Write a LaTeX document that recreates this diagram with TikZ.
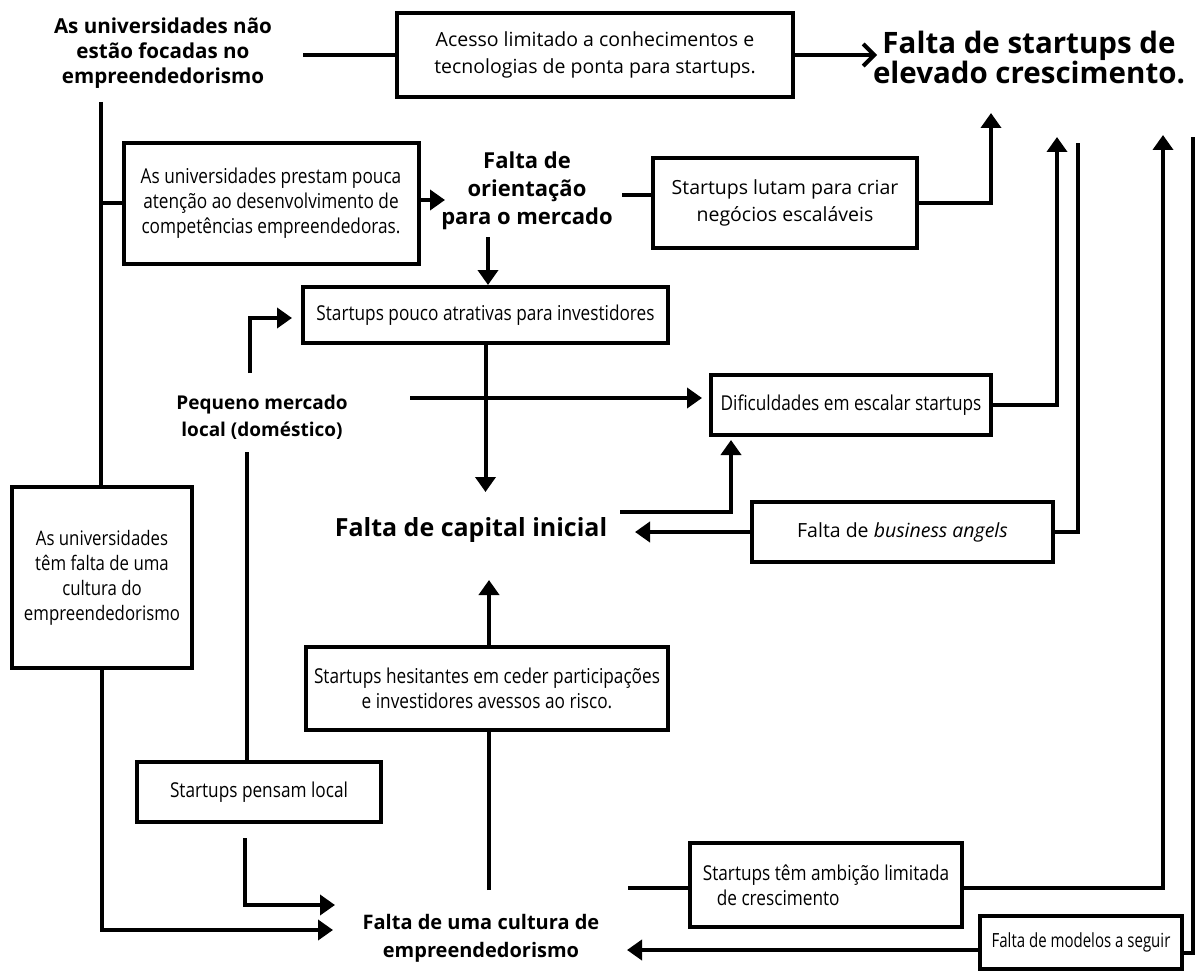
\documentclass[tikz,border=0pt]{standalone}
\usepackage{fontspec}
\setmainfont{Open Sans}
\newfontfamily\condfont[FakeStretch=0.84]{Open Sans}
\newfontfamily\tightfont[FakeStretch=0.77]{Open Sans}
\usetikzlibrary{arrows.meta}
\tikzset{
 box/.style={draw, line width=4pt, align=center, inner sep=4pt},
 ln/.style={line width=4pt},
 arr/.style={ln, -{Triangle[width=20pt,length=15pt]}},
 oarr/.style={ln, -{Straight Barb[width=22pt,length=11pt]}},
 hd/.style={font=\fontsize{20}{27}\selectfont\bfseries, align=center, inner sep=0pt},
 bighd/.style={font=\fontsize{29.5}{30}\selectfont\bfseries, align=center, inner sep=0pt},
 nt/.style={font=\fontsize{19.5}{27}\selectfont},
 ct/.style={font=\fontsize{20.5}{25}\selectfont\condfont},
}
\begin{document}
\begin{tikzpicture}[x=1pt,y=-1pt]
\useasboundingbox (0,0) rectangle (1195,971);
% text nodes
\node[bighd] (fsc) at (1029,57) {Falta de startups de\\elevado crescimento.};
\node[hd, font=\fontsize{20.6}{25}\selectfont\bfseries] (unifoc) at (163,53) {As universidades não\\estão focadas no\\empreendedorismo};
\node[hd, font=\fontsize{22}{28}\selectfont\bfseries] (orient) at (527,191) {Falta de\\orientação\\para o mercado};
\node[hd, font=\fontsize{19}{27}\selectfont\bfseries] (pequeno) at (262,417) {Pequeno mercado\\local (doméstico)};
\node[hd, font=\fontsize{25}{28}\selectfont\bfseries] (capital) at (471,530) {Falta de capital inicial};
\node[hd, font=\fontsize{20}{28}\selectfont\bfseries] (fcult) at (481,938) {Falta de uma cultura de\\empreendedorismo};
% boxes
\node[box, nt, minimum width=396pt, minimum height=84pt] (acesso) at (595,55) {Acesso limitado a conhecimentos e\\tecnologias de ponta para startups.};
\node[box, ct, minimum width=295pt, minimum height=120pt] (prestam) at (271,203.5) {As universidades prestam pouca\\atenção ao desenvolvimento de\\competências empreendedoras.};
\node[box, nt, minimum width=264pt, minimum height=90pt] (lutam) at (785,203) {Startups lutam para criar\\negócios escaláveis};
\node[box, ct, minimum width=365pt, minimum height=56pt] (atrat) at (485.5,315) {Startups pouco atrativas para investidores};
\node[box, ct, minimum width=280pt, minimum height=60pt] (difi) at (851,405) {Dificuldades em escalar startups};
\node[box, nt, minimum width=301pt, minimum height=60pt] (angels) at (902.5,532) {Falta de \textit{business angels}};
\node[box, ct, font=\fontsize{20}{25}\selectfont\condfont, minimum width=180pt, minimum height=181pt] (ucult) at (102,577.5) {As universidades\\têm falta de uma\\cultura do\\empreendedorismo};
\node[box, ct, minimum width=362pt, minimum height=83pt] (hesit) at (487,688.5) {Startups hesitantes em ceder participações\\e investidores avessos ao risco.};
\node[box, ct, minimum width=244pt, minimum height=60pt] (pensam) at (259,792) {Startups pensam local};
\node[box, ct, align=left, minimum width=272pt, minimum height=84pt] (ambic) at (826,885) {Startups têm ambição limitada\\\hspace*{14pt}de crescimento};
\node[box, font=\fontsize{19.5}{22}\selectfont\tightfont, minimum width=202pt, minimum height=53pt] (model) at (1081,942.5) {Falta de modelos a seguir};
% connectors
\coordinate (a1) at (303,55);
\draw[ln] (a1) -- (acesso.west);
\coordinate (a2) at (877,55);
\draw[oarr] (acesso.east) -- (a2);
\coordinate (b1) at (101,102);
\draw[ln] (b1) -- (b1 |- ucult.north);
\draw[ln] (b1 |- prestam.west) -- (prestam.west);
\coordinate (o1) at (445,200);
\draw[arr] (prestam.east |- o1) -- (o1);
\coordinate (o2) at (622,195);
\draw[ln] (o2) -- (o2 -| lutam.west);
\coordinate (o3) at (488,237);
\draw[arr] (o3) -- (o3 |- atrat.north);
\coordinate (l1) at (991,113);
\draw[arr] (lutam.east) -| (l1);
\coordinate (p1) at (250,373);
\coordinate (p2) at (292,318);
\draw[arr] (p1) |- (p2);
\coordinate (p3) at (410,398);
\coordinate (p4) at (702,398);
\draw[arr] (p3) -- (p4);
\coordinate (p5) at (247,452);
\draw[ln] (p5) -- (p5 |- pensam.north);
\coordinate (t1) at (485.5,492);
\draw[arr] (atrat.south) -- (t1);
\coordinate (d1) at (1057,137);
\draw[arr] (difi.east) -| (d1);
\coordinate (g1) at (1078,143);
\draw[ln] (angels.east) -| (g1);
\coordinate (c1) at (620,512);
\coordinate (c2) at (731,440);
\draw[arr] (c1) -| (c2);
\coordinate (c3) at (635,532);
\draw[arr] (angels.west) -- (c3);
\coordinate (h1) at (489,580);
\draw[arr] (h1 |- hesit.north) -- (h1);
\coordinate (f1) at (489,890);
\draw[ln] (f1) -- (f1 |- hesit.south);
\coordinate (u1) at (333,930);
\draw[arr] (ucult.south) |- (u1);
\coordinate (s0) at (245,838);
\coordinate (s1) at (335,905);
\draw[arr] (s0) |- (s1);
\coordinate (m0) at (628,888);
\draw[ln] (m0) -- (m0 -| ambic.west);
\coordinate (m1) at (1163,135);
\draw[arr] (ambic.east |- m0) -| (m1);
\coordinate (m2) at (627,950);
\draw[arr] (model.west |- m2) -- (m2);
\coordinate (m4) at (1184,953);
\coordinate (m3) at (1193,137);
\draw[ln] (m4) -| (m3);
\end{tikzpicture}
\end{document}
